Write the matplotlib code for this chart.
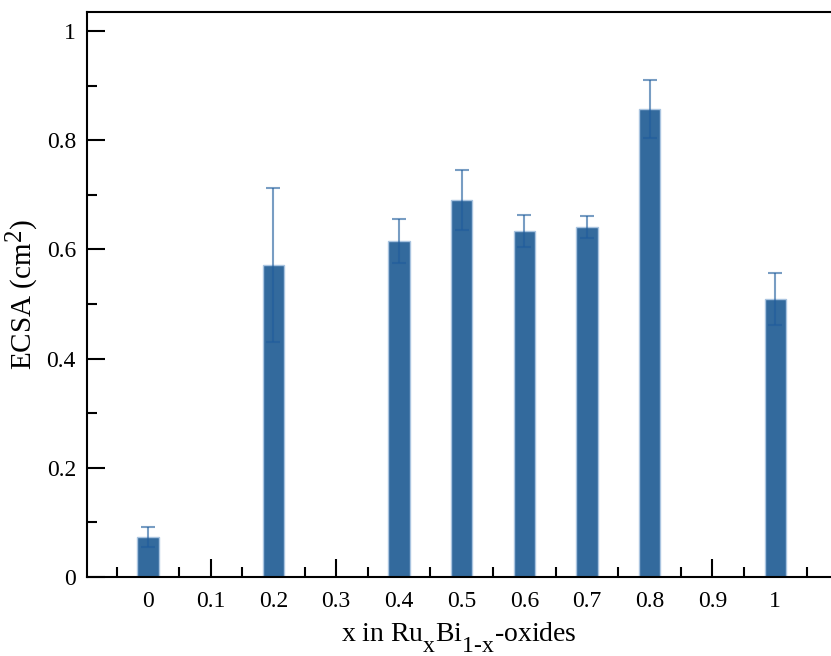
import matplotlib
matplotlib.use('Agg')
from matplotlib import pyplot as plt
from matplotlib.ticker import MultipleLocator
import matplotlib._mathtext as mathtext_internal

# data
x_vals = [0.0, 0.2, 0.4, 0.5, 0.6, 0.7, 0.8, 1.0]
ecsa = [0.073, 0.572, 0.615, 0.691, 0.634, 0.641, 0.857, 0.509]
ecsa_err = [0.018, 0.141, 0.040, 0.055, 0.029, 0.020, 0.053, 0.048]
x_ticks = [0, 0.1, 0.2, 0.3, 0.4, 0.5, 0.6, 0.7, 0.8, 0.9, 1]
x_ticklabels = ['0', '0.1', '0.2', '0.3', '0.4', '0.5', '0.6', '0.7', '0.8', '0.9', '1']
y_ticks = [0, 0.2, 0.4, 0.6, 0.8, 1]
y_ticklabels = ['0', '0.2', '0.4', '0.6', '0.8', '1']

# subscripts in the reference are nearly full size and sit low
mathtext_internal.SHRINK_FACTOR = 0.85
mathtext_internal.FontConstantsBase.sub1 = 0.9
mathtext_internal.FontConstantsBase.sub2 = 0.9

plt.rcParams['font.family'] = ['Liberation Serif', 'DejaVu Serif']
plt.rcParams['mathtext.fontset'] = 'custom'
plt.rcParams['mathtext.rm'] = 'Liberation Serif'
plt.rcParams['mathtext.it'] = 'Liberation Serif'

fig = plt.figure(figsize=(8.31, 6.56), dpi=100, facecolor='w')
ax = fig.add_axes([87 / 831, 79 / 656, 1 - 87 / 831, (577 - 12) / 656])

ax.bar(x_vals, ecsa, width=0.034, color='#336a9d', edgecolor='#a9c4e0',
       linewidth=1.0, zorder=2)
ax.errorbar(x_vals, ecsa, yerr=ecsa_err, fmt='none', ecolor='#1f5c9c',
            alpha=0.6, elinewidth=1.5, capsize=4.7, capthick=1.5, zorder=3)

ax.set_xlim(-0.0973, 1.089)
ax.set_ylim(0, 1.035)
ax.set_xticks(x_ticks)
ax.set_xticklabels(x_ticklabels)
ax.set_yticks(y_ticks)
ax.set_yticklabels(y_ticklabels)
ax.xaxis.set_minor_locator(MultipleLocator(0.05))
ax.yaxis.set_minor_locator(MultipleLocator(0.1))

ax.tick_params(which='both', direction='in', top=False, right=False,
               labelsize=17, width=1.5, colors='black')
ax.tick_params(which='major', length=13)
ax.tick_params(which='minor', length=7)
ax.tick_params(axis='x', which='major', pad=10)
ax.tick_params(axis='y', which='major', pad=8)

for side in ['left', 'bottom', 'top']:
    ax.spines[side].set_linewidth(1.5)
ax.spines['right'].set_visible(False)

ax.set_xlabel(r'x in Ru$_{\mathrm{x}}$Bi$_{\mathrm{1\text{-}x}}$-oxides', fontsize=20, labelpad=6)
ax.set_ylabel(r'ECSA (cm$^{2}$)', fontsize=21, labelpad=4)

fig.savefig('out.png', dpi=100)
